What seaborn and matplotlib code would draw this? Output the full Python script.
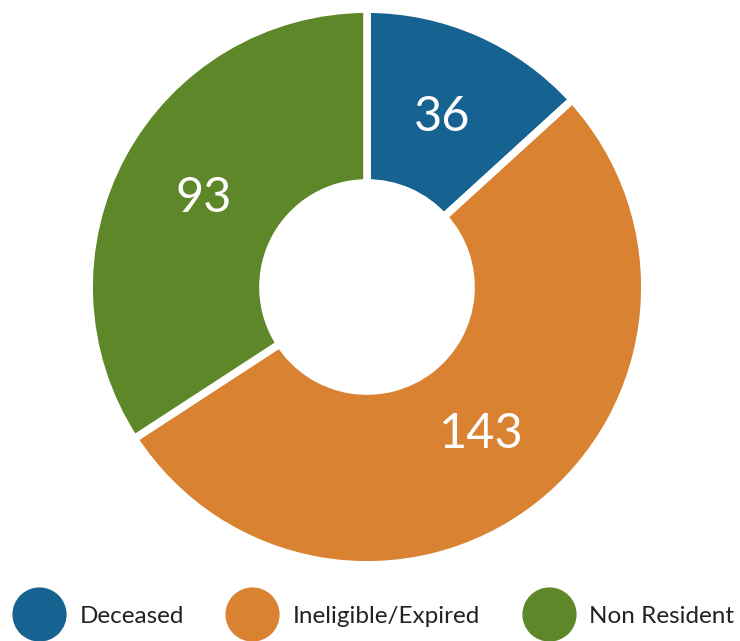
import matplotlib
matplotlib.use("Agg")
import matplotlib.pyplot as plt
from matplotlib.lines import Line2D
import seaborn as sns

# data
categories = ["Deceased", "Ineligible/Expired", "Non Resident"]
counts = [36, 143, 93]
colors = ["#166291", "#D98232", "#5E8729"]

sns.set_theme(style="white")
plt.rcParams['font.family'] = ['Lato', 'DejaVu Sans']

fig = plt.figure(figsize=(7.4, 6.41), dpi=100)
# square axes so the donut sits where the reference has it
ax = fig.add_axes([(367 - 285) / 740, (354 - 285) / 641, 570 / 740, 570 / 641])

wedges, texts, autotexts = ax.pie(
    counts,
    colors=colors,
    startangle=90,
    counterclock=False,
    radius=0.975,
    autopct=lambda p: f"{round(p * sum(counts) / 100):d}",
    pctdistance=0.67,
    wedgeprops=dict(width=0.61, edgecolor="white", linewidth=5.5),
    textprops=dict(color="white", fontsize=35),
)
ax.set_xlim(-1.0, 1.0)
ax.set_ylim(-1.0, 1.0)
ax.set_aspect("equal")
ax.axis("off")

# legend with big round markers at the bottom
handles = [Line2D([], [], marker="o", linestyle="", markersize=38,
                  markerfacecolor=c, markeredgecolor=c) for c in colors]
fig.legend(handles, categories, loc="center", ncol=3,
           bbox_to_anchor=(377 / 740, (641 - 616) / 641), frameon=False,
           fontsize=17.5, handletextpad=0.88, columnspacing=2.0,
           handlelength=1.6, labelcolor="#222222")

fig.savefig("out.png", dpi=100)
